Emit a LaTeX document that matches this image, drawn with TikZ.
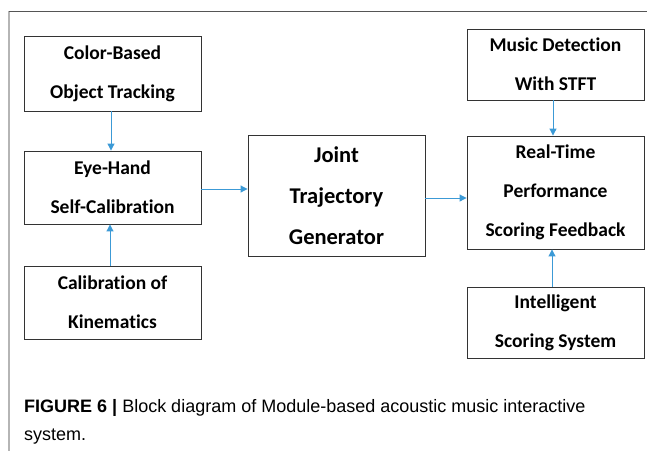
\documentclass[tikz,border=0pt]{standalone}
\usepackage{fontspec}
\setmainfont{Liberation Sans}
\newfontfamily\boxfont[Ligatures={NoCommon}]{Carlito}
\usetikzlibrary{arrows.meta}
\definecolor{arrowblue}{HTML}{3C9AD6}
\definecolor{framegray}{HTML}{555555}
\definecolor{sidegray}{HTML}{B5B5B5}
\tikzset{
  blockbox/.style={draw=black!80, line width=0.9pt, inner sep=0pt, align=center,
    font=\boxfont\bfseries\fontsize{19.5}{39}\selectfont},
  bigbox/.style={blockbox, font=\boxfont\bfseries\fontsize{22.5}{41}\selectfont},
  link/.style={draw=arrowblue, line width=1pt, -{Triangle[length=7pt,width=7pt]}},
}
\begin{document}
\begin{tikzpicture}[x=1pt,y=-1pt]
\useasboundingbox (0,0) rectangle (647,451);
% frame
\draw[sidegray, line width=1.8pt] (9,11) -- (9,451);
\draw[framegray, line width=0.9pt] (9,11) -- (647,11);
% boxes
\node[blockbox, minimum width=177pt, minimum height=75pt] (cbot) at (112.5,73.5) {Color-Based\\Object Tracking};
\node[blockbox, minimum width=177pt, minimum height=73pt] (ehsc) at (112.5,187.5) {Eye-Hand\\Self-Calibration};
\node[blockbox, minimum width=177pt, minimum height=73pt] (cok) at (112.5,302.5) {Calibration of\\Kinematics};
\node[bigbox, minimum width=177pt, minimum height=121pt] (jtg) at (336.5,195.5) {Joint\\Trajectory\\Generator};
\node[blockbox, minimum width=177pt, minimum height=71pt] (mds) at (555.5,64.5) {Music Detection\\With STFT};
\node[blockbox, minimum width=177pt, minimum height=113pt] (rtp) at (555.5,192.5) {Real-Time\\Performance\\Scoring Feedback};
\node[blockbox, minimum width=177pt, minimum height=71pt] (iss) at (555.5,322.5) {Intelligent\\Scoring System};
% connectors
\draw[link] (cbot.south -| 111,0) -- (ehsc.north -| 111,0);
\draw[link] (cok.north -| 110,0) -- (ehsc.south -| 110,0);
\draw[link] (ehsc.east |- 0,189) -- (jtg.west |- 0,189);
\draw[link] (jtg.east |- 0,198) -- (rtp.west |- 0,198);
\draw[link] (mds.south -| 553,0) -- (rtp.north -| 553,0);
\draw[link] (iss.north -| 552,0) -- (rtp.south -| 552,0);
% caption
\node[anchor=base west, inner sep=0pt, font=\fontsize{18}{28}\selectfont] (cap1) at (24,412)
  {\textbf{FIGURE 6 |} Block diagram of Module-based acoustic music interactive};
\node[anchor=base west, inner sep=0pt, font=\fontsize{18}{28}\selectfont] (cap2) at (24,440) {system.};
\end{tikzpicture}
\end{document}
